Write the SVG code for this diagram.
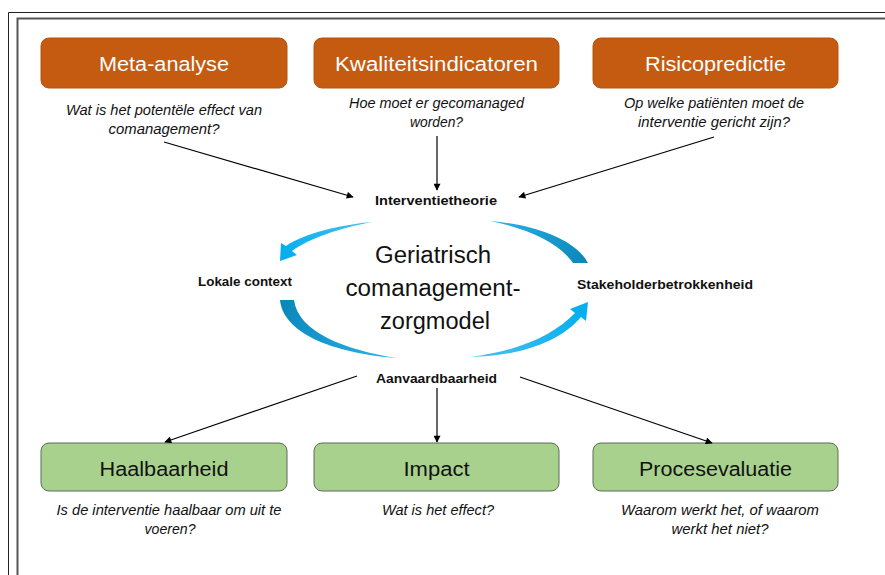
<svg xmlns="http://www.w3.org/2000/svg" width="885" height="575" viewBox="0 0 885 575">
<defs>
<style>
.t{font-family:"Liberation Sans",Arial,sans-serif;}
.title{font-size:20px;fill:#fff;text-anchor:middle;}
.gtitle{font-size:20px;fill:#111;text-anchor:middle;}
.q{font-size:14px;font-style:italic;fill:#111;text-anchor:middle;}
.lab{font-size:13.5px;font-weight:bold;fill:#111;text-anchor:middle;}
.mid{font-size:23px;fill:#111;text-anchor:middle;}
.orange{fill:#C55A11;stroke:#B8520F;stroke-width:1;}
.green{fill:#A9D18E;stroke:#5E6B55;stroke-width:1;}
.con{stroke:#000;stroke-width:1.2;fill:none;marker-end:url(#ah);}
</style>
<marker id="ah" viewBox="0 0 10 10" refX="9" refY="5" markerWidth="8" markerHeight="7" markerUnits="userSpaceOnUse" orient="auto">
<path d="M0,0 L10,5 L0,10 Z" fill="#000"/>
</marker>
<linearGradient id="gTR" x1="490" y1="221" x2="588" y2="263" gradientUnits="userSpaceOnUse">
<stop offset="0" stop-color="#2bb3ea"/><stop offset="1" stop-color="#0a86b8"/>
</linearGradient>
<linearGradient id="gBL" x1="397" y1="358" x2="280" y2="300" gradientUnits="userSpaceOnUse">
<stop offset="0" stop-color="#2bb3ea"/><stop offset="1" stop-color="#0a86b8"/>
</linearGradient>
<linearGradient id="gTL" x1="372" y1="222" x2="281" y2="260" gradientUnits="userSpaceOnUse">
<stop offset="0" stop-color="#4cc0ee"/><stop offset="1" stop-color="#00aeef"/>
</linearGradient>
<linearGradient id="gBR" x1="470" y1="357" x2="587" y2="303" gradientUnits="userSpaceOnUse">
<stop offset="0" stop-color="#4cc0ee"/><stop offset="1" stop-color="#00aeef"/>
</linearGradient>
</defs>
<rect width="885" height="575" fill="#fff"/>
<g id="frame">
<path d="M8.5,575 V12.5 H885" fill="none" stroke="#222" stroke-width="1"/>
<path d="M17.5,575 V18.5 H885" fill="none" stroke="#555" stroke-width="2"/>
</g>
<g id="meta-analyse">
<rect class="orange" x="41" y="38" width="246" height="50" rx="8"/>
<text class="t title" x="164" y="71" textLength="130" lengthAdjust="spacingAndGlyphs">Meta-analyse</text>
<text class="t q" x="164" y="115" textLength="196" lengthAdjust="spacingAndGlyphs">Wat is het potentële effect van</text>
<text class="t q" x="164" y="134" textLength="111" lengthAdjust="spacingAndGlyphs">comanagement?</text>
</g>
<g id="kwaliteitsindicatoren">
<rect class="orange" x="314" y="38" width="245" height="50" rx="8"/>
<text class="t title" x="436.5" y="71" textLength="203" lengthAdjust="spacingAndGlyphs">Kwaliteitsindicatoren</text>
<text class="t q" x="436.5" y="108" textLength="175" lengthAdjust="spacingAndGlyphs">Hoe moet er gecomanaged</text>
<text class="t q" x="436.5" y="127" textLength="53" lengthAdjust="spacingAndGlyphs">worden?</text>
</g>
<g id="risicopredictie">
<rect class="orange" x="593" y="38" width="245" height="50" rx="8"/>
<text class="t title" x="715.5" y="71" textLength="141" lengthAdjust="spacingAndGlyphs">Risicopredictie</text>
<text class="t q" x="714" y="108" textLength="180" lengthAdjust="spacingAndGlyphs">Op welke patiënten moet de</text>
<text class="t q" x="714" y="127" textLength="152" lengthAdjust="spacingAndGlyphs">interventie gericht zijn?</text>
</g>
<g id="center">
<path d="M490,221 C530,224 575,238 588,263 L573,263 C560,244 530,229 490,221 Z" fill="url(#gTR)"/>
<path d="M372,222 C340,225 305,233 286,246 L281,243 L280,261 L297,255 L292,251 C310,238 340,228 372,222 Z" fill="url(#gTL)"/>
<path d="M280,300 C283,332 330,353 397,358 C345,350 298,332 294,300 Z" fill="url(#gBL)"/>
<path d="M470,357 C520,356 560,342 581,317 L586,321 L588,302 L570,309 L575,313 C555,334 520,351 470,357 Z" fill="url(#gBR)"/>
<text class="t mid" x="433" y="263" textLength="116" lengthAdjust="spacingAndGlyphs">Geriatrisch</text>
<text class="t mid" x="433" y="296" textLength="175" lengthAdjust="spacingAndGlyphs">comanagement-</text>
<text class="t mid" x="435" y="329" textLength="110" lengthAdjust="spacingAndGlyphs">zorgmodel</text>
</g>
<g id="interventietheorie">
<text class="t lab" x="436" y="205" textLength="122" lengthAdjust="spacingAndGlyphs">Interventietheorie</text>
</g>
<g id="lokale-context">
<text class="t lab" x="245" y="286" textLength="94" lengthAdjust="spacingAndGlyphs">Lokale context</text>
</g>
<g id="stakeholderbetrokkenheid">
<text class="t lab" x="665" y="289" textLength="176" lengthAdjust="spacingAndGlyphs">Stakeholderbetrokkenheid</text>
</g>
<g id="aanvaardbaarheid">
<text class="t lab" x="436.5" y="383" textLength="121" lengthAdjust="spacingAndGlyphs">Aanvaardbaarheid</text>
</g>
<g id="haalbaarheid">
<rect class="green" x="41" y="443" width="246" height="48" rx="8"/>
<text class="t gtitle" x="164" y="476" textLength="129" lengthAdjust="spacingAndGlyphs">Haalbaarheid</text>
<text class="t q" x="169" y="515" textLength="225" lengthAdjust="spacingAndGlyphs">Is de interventie haalbaar om uit te</text>
<text class="t q" x="170" y="534" textLength="51" lengthAdjust="spacingAndGlyphs">voeren?</text>
</g>
<g id="impact">
<rect class="green" x="314" y="443" width="245" height="48" rx="8"/>
<text class="t gtitle" x="436.5" y="476" textLength="66" lengthAdjust="spacingAndGlyphs">Impact</text>
<text class="t q" x="438" y="515" textLength="112" lengthAdjust="spacingAndGlyphs">Wat is het effect?</text>
</g>
<g id="procesevaluatie">
<rect class="green" x="593" y="443" width="245" height="48" rx="8"/>
<text class="t gtitle" x="715.5" y="476" textLength="153" lengthAdjust="spacingAndGlyphs">Procesevaluatie</text>
<text class="t q" x="720" y="515" textLength="198" lengthAdjust="spacingAndGlyphs">Waarom werkt het, of waarom</text>
<text class="t q" x="720" y="534" textLength="97" lengthAdjust="spacingAndGlyphs">werkt het niet?</text>
</g>
<g id="connectors">
<line class="con" x1="164" y1="142" x2="353" y2="197"/>
<line class="con" x1="437" y1="136" x2="437" y2="190"/>
<line class="con" x1="714" y1="137" x2="519" y2="197"/>
<line class="con" x1="357" y1="376" x2="165" y2="442"/>
<line class="con" x1="437" y1="388" x2="437" y2="442"/>
<line class="con" x1="520" y1="377" x2="712" y2="443"/>
</g>
</svg>
